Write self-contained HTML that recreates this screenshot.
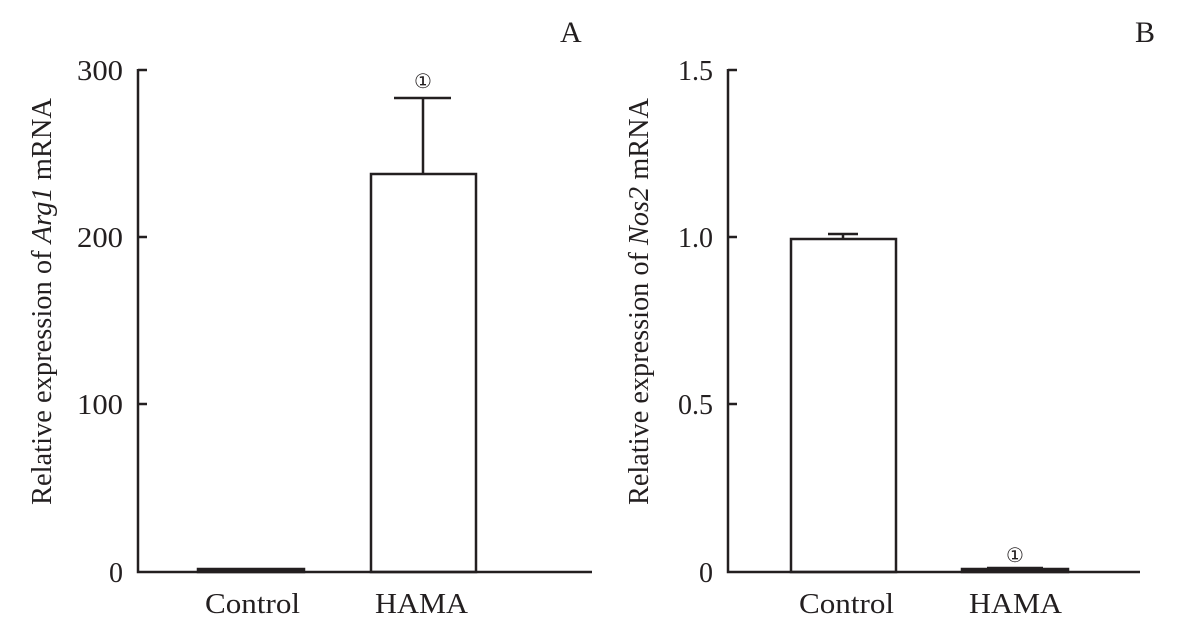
<!DOCTYPE html>
<html><head><style>body{margin:0;background:#fff}</style></head><body>
<svg width="1182" height="626" xmlns="http://www.w3.org/2000/svg" font-family="Liberation Serif, serif" fill="none" stroke="#231f20" stroke-width="2.5">
<!-- Chart A -->
<path d="M138,69V572H592"/>
<path d="M138,70H147M138,237H147M138,404H147"/>
<rect x="198" y="569" width="106" height="3" fill="#231f20"/>
<rect x="371" y="174" width="105" height="398"/>
<path d="M423,174V98M394,98H451"/>
<g fill="#231f20" stroke="none" font-size="28" text-anchor="end">
<text x="123" y="80" textLength="46" lengthAdjust="spacingAndGlyphs">300</text><text x="123" y="247" textLength="46" lengthAdjust="spacingAndGlyphs">200</text><text x="123" y="414" textLength="46" lengthAdjust="spacingAndGlyphs">100</text><text x="123" y="582">0</text>
</g>
<g fill="#231f20" stroke="none" font-size="28">
<text x="205" y="613" textLength="95" lengthAdjust="spacingAndGlyphs">Control</text><text x="375" y="613" textLength="93" lengthAdjust="spacingAndGlyphs">HAMA</text>
<text x="560" y="42" font-size="30">A</text>
<text x="423" y="88" font-size="20" text-anchor="middle">①</text>
<text transform="translate(51,505) rotate(-90)" textLength="407" lengthAdjust="spacingAndGlyphs">Relative expression of <tspan font-style="italic">Arg1</tspan> mRNA</text>
</g>
<!-- Chart B -->
<path d="M728,69V572H1140"/>
<path d="M728,70H737M728,237H737M728,404H737"/>
<rect x="791" y="239" width="105" height="333"/>
<path d="M843,239V234M828,234H858"/>
<rect x="962" y="569" width="106" height="3" fill="#231f20"/>
<path d="M987,568H1043"/>
<g fill="#231f20" stroke="none" font-size="28" text-anchor="end">
<text x="713" y="80">1.5</text><text x="713" y="247">1.0</text><text x="713" y="414">0.5</text><text x="713" y="582">0</text>
</g>
<g fill="#231f20" stroke="none" font-size="28">
<text x="799" y="613" textLength="95" lengthAdjust="spacingAndGlyphs">Control</text><text x="969" y="613" textLength="93" lengthAdjust="spacingAndGlyphs">HAMA</text>
<text x="1135" y="42" font-size="30">B</text>
<text x="1015" y="562" font-size="20" text-anchor="middle">①</text>
<text transform="translate(648,505) rotate(-90)" textLength="407" lengthAdjust="spacingAndGlyphs">Relative expression of <tspan font-style="italic">Nos2</tspan> mRNA</text>
</g>
</svg>
</body></html>
